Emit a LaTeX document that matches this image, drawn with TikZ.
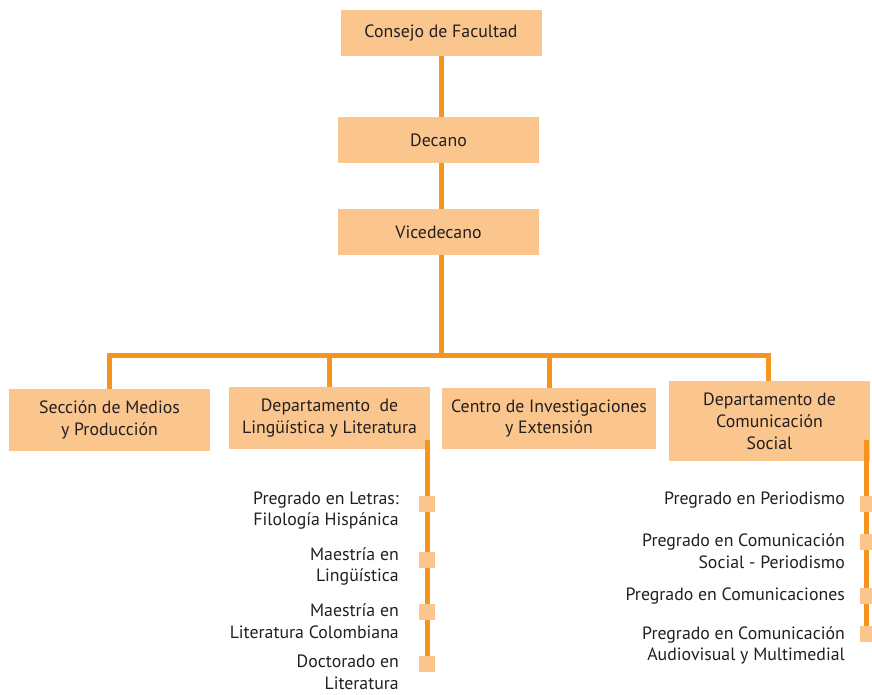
\documentclass[tikz,border=0pt]{standalone}
\usepackage{fontspec}
\setmainfont{PT Sans}
\definecolor{boxfill}{HTML}{FAC68E}
\definecolor{lineor}{HTML}{F7941D}
\definecolor{txt}{HTML}{231F20}
\pgfdeclarelayer{bg}
\pgfdeclarelayer{top}
\pgfsetlayers{bg,main,top}
\begin{document}
\begin{tikzpicture}[x=1pt,y=-1pt,
  box/.style={fill=boxfill, draw=none, inner sep=0pt, align=center, text=txt,
    font=\fontsize{17.8}{21.8}\selectfont},
  conn/.style={draw=lineor, line width=5pt, line join=miter},
  sq/.style={fill=boxfill, draw=none, minimum width=16pt, minimum height=16pt, inner sep=0pt},
  item/.style={anchor=east, align=right, text=txt, inner sep=0pt,
    font=\fontsize{17.8}{21.8}\selectfont}]
\useasboundingbox (0,0) rectangle (872,694);
% main boxes
\node[box, minimum width=201pt, minimum height=46pt] (consejo) at (441,33) {Consejo de Facultad};
\node[box, minimum width=201pt, minimum height=46pt] (decano) at (438.5,140) {Decano};
\node[box, minimum width=201pt, minimum height=46pt] (vice) at (438.5,232) {Vicedecano};
\node[box, minimum width=201pt, minimum height=62pt] (sec) at (109.5,420) {Sección de Medios\\y Producción};
\node[box, minimum width=201pt, minimum height=62pt] (ling) at (329.5,418) {Departamento\ \ de\\Lingüística y Literatura};
\node[box, minimum width=214pt, minimum height=61pt] (cen) at (549,418.5) {Centro de Investigaciones\\y Extensión};
\node[box, minimum width=201pt, minimum height=80pt] (com) at (769.5,421) {Departamento de\\Comunicación\\Social};
% junction coordinates
\coordinate (bar) at (441,355.5);
\coordinate (comtop) at (768,381);
\coordinate (lingtop) at (427,440);
\coordinate (comsub) at (866.5,440);
% spine connectors (behind boxes)
\begin{pgfonlayer}{bg}
\draw[conn] (consejo.south) -- (bar);
\draw[conn] (sec.north) -- (sec.north |- bar) -- (comtop |- bar) -- (comtop);
\draw[conn] (ling.north) -- (ling.north |- bar);
\draw[conn] (cen.north) -- (cen.north |- bar);
\end{pgfonlayer}
% sub-item squares
\begin{pgfonlayer}{top}
\node[sq] (l1) at (427,504) {};
\node[sq] (l2) at (427,559.5) {};
\node[sq] (l3) at (427,612) {};
\node[sq] (l4) at (427,664) {};
\node[sq] (c1) at (868,504) {};
\node[sq] (c2) at (868,542) {};
\node[sq] (c3) at (868,596) {};
\node[sq] (c4) at (868,634) {};
\end{pgfonlayer}
% sub-item lines (over boxes, under squares)
\draw[conn] (lingtop) -- (lingtop |- l4.north);
\draw[conn] (comsub) -- (comsub |- c4.north);
% sub-item labels
\node[item] (tl1) at (399,510.5) {Pregrado en Letras:\\Filología Hispánica};
\node[item] (tl2) at (399,566.5) {Maestría en\\Lingüística};
\node[item] (tl3) at (399,621) {Maestría en\\Literatura Colombiana};
\node[item] (tl4) at (399,672.5) {Doctorado en\\Literatura};
\node[item] (tc1) at (845,500) {Pregrado en Periodismo};
\node[item] (tc2) at (845,551.5) {Pregrado en Comunicación\\Social - Periodismo};
\node[item] (tc3) at (845,596) {Pregrado en Comunicaciones};
\node[item] (tc4) at (845,645.5) {Pregrado en Comunicación\\Audiovisual y Multimedial};
\end{tikzpicture}
\end{document}
